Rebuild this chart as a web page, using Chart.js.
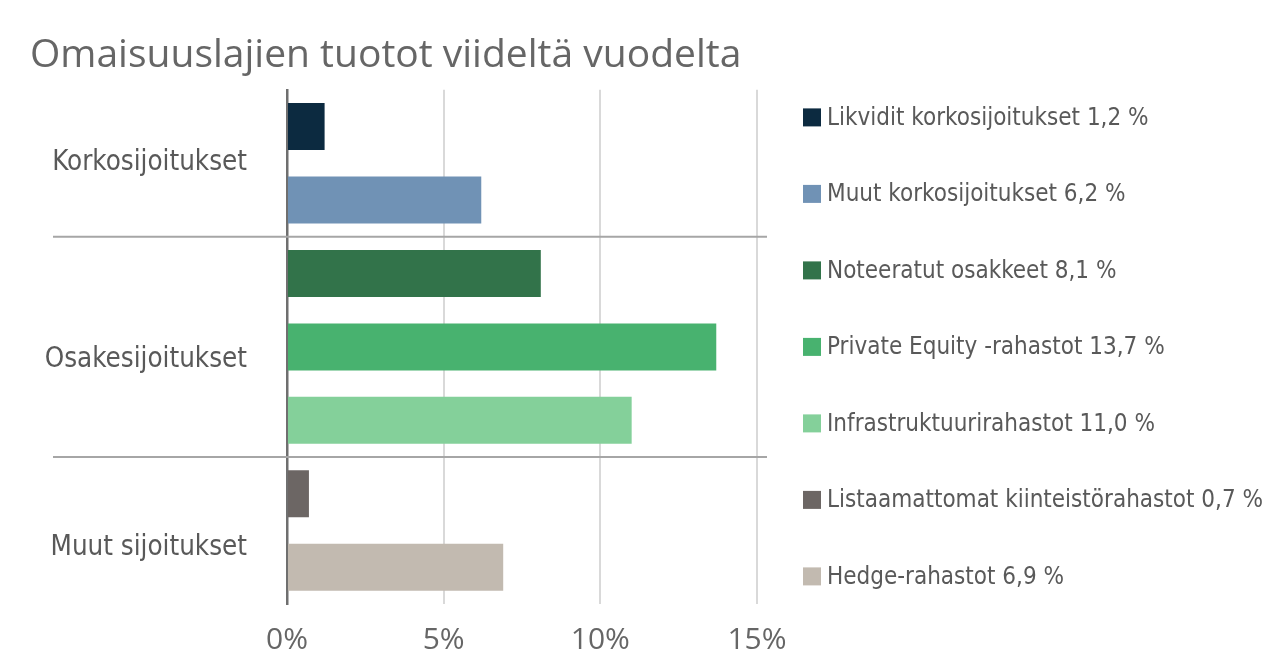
<!DOCTYPE html>
<html>
<head>
<meta charset="utf-8">
<script src="https://cdn.jsdelivr.net/npm/chart.js@4"></script>
<style>
  html, body { margin: 0; padding: 0; background: #ffffff; }
  #wrap { width: 1288px; height: 672px; }
</style>
</head>
<body>
<div id="wrap"><canvas id="grafica"></canvas></div>
<script>
var otsikko = "Omaisuuslajien tuotot viideltä vuodelta"
var lajit = ["Likvidit korkosijoitukset", "Muut korkosijoitukset", "Noteeratut osakkeet", "Private Equity -rahastot", "Infrastruktuurirahastot", "Listaamattomat kiinteistörahastot", "Hedge-rahastot"]
var tuotot = [1.2, 6.2, 8.1, 13.7, 11.0, 0.7, 6.9]
var tuototTeksti = ["1,2 %", "6,2 %", "8,1 %", "13,7 %", "11,0 %", "0,7 %", "6,9 %"]
var ryhmat = ["Korkosijoitukset", "Osakesijoitukset", "Muut sijoitukset"]
var ryhmienKohdat = [0.5, 3.17, 5.73]
var ryhmienRajat = [1.5, 4.5]
var xTicks = [0, 5, 10, 15]
var coloresGrafica = ["#0c2a40", "#7092b5", "#32734a", "#48b26f", "#84d09a", "#6c6664", "#c2bab0"]

var fuenteEstrecha = "'Liberation Sans Narrow', 'DejaVu Sans Condensed', 'Roboto', sans-serif"

var pluginRyhmat = {
    id: 'ryhmat',
    afterDraw: function (chart) {
        var ctx = chart.ctx
        var y = chart.scales.y
        var area = chart.chartArea
        ctx.save()
        // separator lines
        ctx.strokeStyle = "#a6a6a6"
        ctx.lineWidth = 2
        for (let i = 0; i < ryhmienRajat.length; i++) {
            var py = y.getPixelForValue(ryhmienRajat[i])
            ctx.beginPath()
            ctx.moveTo(53, py)
            ctx.lineTo(area.right + 10, py)
            ctx.stroke()
        }
        // group labels
        ctx.fillStyle = "#595959"
        ctx.font = "27.5px " + fuenteEstrecha
        ctx.textAlign = "right"
        ctx.textBaseline = "middle"
        for (let i = 0; i < ryhmat.length; i++) {
            ctx.fillText(ryhmat[i], area.left - 40, y.getPixelForValue(ryhmienKohdat[i]))
        }
        // legend
        var vali = 76.5
        var keski = (area.top + area.bottom) / 2
        var alku = keski - vali * (lajit.length - 1) / 2
        ctx.textAlign = "left"
        ctx.font = "24px " + fuenteEstrecha
        for (let i = 0; i < lajit.length; i++) {
            var ly = alku + vali * i
            ctx.fillStyle = coloresGrafica[i]
            ctx.fillRect(803, ly - 9, 18, 18)
            ctx.fillStyle = "#595959"
            ctx.fillText(lajit[i] + " " + tuototTeksti[i], 827, ly + 1)
        }
        ctx.restore()
    }
}

function crearGrafica() {
    var ctx = document.getElementById('grafica').getContext('2d')

    data = {
        labels: lajit,
        datasets: [{
            data: tuotot,
            backgroundColor: coloresGrafica,
            barPercentage: 0.8,
            categoryPercentage: 0.8
        }]
    }

    new Chart(ctx, {
        type: 'bar',
        data: data,
        plugins: [pluginRyhmat],
        options: {
            indexAxis: 'y',
            responsive: true,
            maintainAspectRatio: false,
            animation: false,
            layout: { padding: { left: 30, right: 531, top: 0, bottom: 0 } },
            plugins: {
                legend: { display: false },
                tooltip: { enabled: false },
                title: {
                    display: true,
                    text: otsikko,
                    align: 'start',
                    color: "#666666",
                    font: { family: "'Open Sans', sans-serif", size: 39, weight: 'normal' },
                    padding: { top: 32, bottom: 11 }
                }
            },
            scales: {
                x: {
                    min: 0,
                    max: 15,
                    afterBuildTicks: function (scale) {
                        scale.ticks = xTicks.map(function (v) { return { value: v } })
                    },
                    afterFit: function (scale) { scale.height = 68 },
                    ticks: {
                        color: "#666666",
                        font: { family: "'Open Sans', sans-serif", size: 30 },
                        padding: 18,
                        callback: function (v) { return v + "%" }
                    },
                    grid: {
                        drawTicks: false,
                        lineWidth: 2,
                        color: function (c) { return c.tick && c.tick.value === 0 ? "rgba(0,0,0,0)" : "#d9d9d9" }
                    },
                    border: { display: false }
                },
                y: {
                    ticks: { display: false },
                    grid: { display: false, drawTicks: false },
                    border: { display: true, color: "#6f6f6f", width: 2.5 },
                    afterFit: function (scale) { scale.width = 257 }
                }
            }
        }
    })
}

crearGrafica()
</script>
</body>
</html>
